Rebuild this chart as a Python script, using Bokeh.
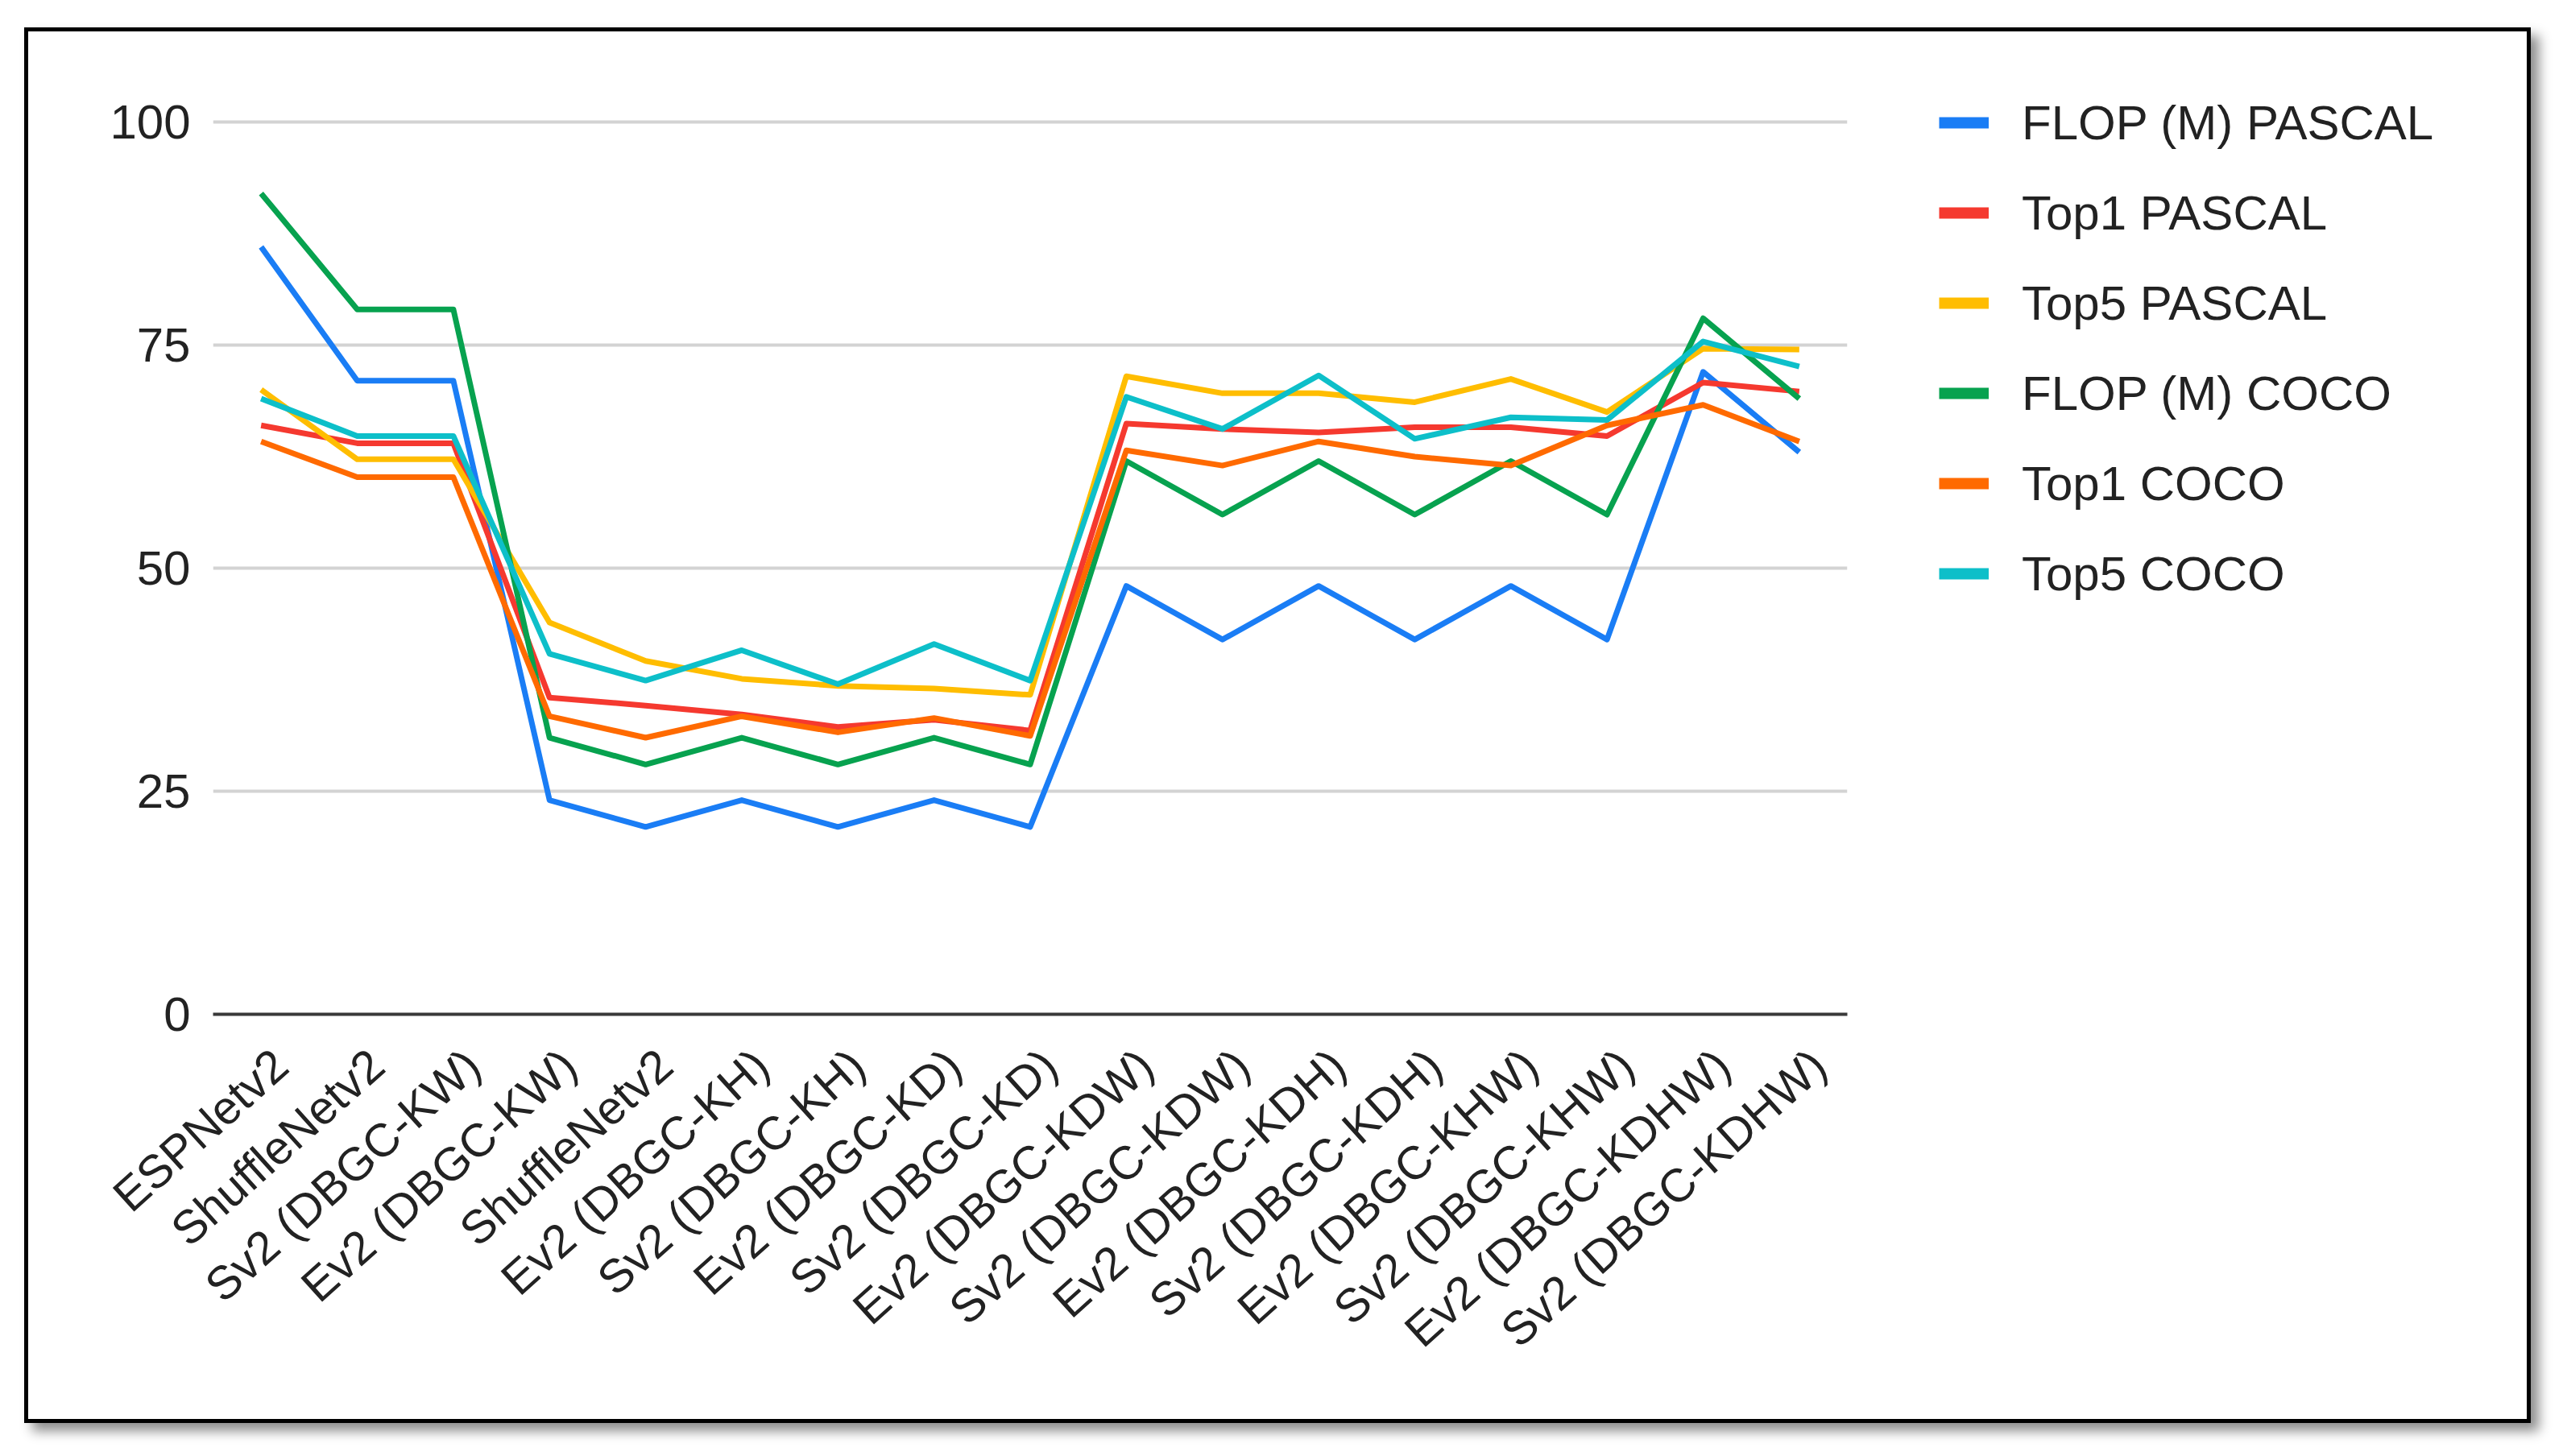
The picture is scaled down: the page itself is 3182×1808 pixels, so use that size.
import math
from bokeh.plotting import figure
from bokeh.layouts import row
from bokeh.models import Range1d, FixedTicker, Legend, LegendItem, LinearAxis
from bokeh.embed import file_html
from bokeh.resources import INLINE

categories = [
    "ESPNetv2", "ShuffleNetv2", "Sv2 (DBGC-KW)", "Ev2 (DBGC-KW)", "ShuffleNetv2",
    "Ev2 (DBGC-KH)", "Sv2 (DBGC-KH)", "Ev2 (DBGC-KD)", "Sv2 (DBGC-KD)",
    "Ev2 (DBGC-KDW)", "Sv2 (DBGC-KDW)", "Ev2 (DBGC-KDH)", "Sv2 (DBGC-KDH)",
    "Ev2 (DBGC-KHW)", "Sv2 (DBGC-KHW)", "Ev2 (DBGC-KDHW)", "Sv2 (DBGC-KDHW)",
]

flop_pascal = [86, 71, 71, 24, 21, 24, 21, 24, 21, 48, 42, 48, 42, 48, 42, 72, 63]
top1_pascal = [66, 64, 64, 35.5, 34.6, 33.6, 32.2, 33.0, 31.8, 66.2, 65.6, 65.2, 65.8, 65.8, 64.8, 70.8, 69.8]
top5_pascal = [70, 62.2, 62.2, 43.9, 39.6, 37.6, 36.8, 36.5, 35.8, 71.5, 69.6, 69.6, 68.6, 71.2, 67.5, 74.6, 74.5]
flop_coco = [92, 79, 79, 31, 28, 31, 28, 31, 28, 62, 56, 62, 56, 62, 56, 78, 69]
top1_coco = [64.2, 60.2, 60.2, 33.4, 31.0, 33.4, 31.6, 33.2, 31.2, 63.2, 61.5, 64.2, 62.5, 61.5, 66.0, 68.3, 64.2]
top5_coco = [69, 64.8, 64.8, 40.4, 37.4, 40.8, 37.0, 41.5, 37.4, 69.2, 65.6, 71.6, 64.5, 66.9, 66.6, 75.4, 72.6]

series_names = ["FLOP (M) PASCAL", "Top1 PASCAL", "Top5 PASCAL",
                "FLOP (M) COCO", "Top1 COCO", "Top5 COCO"]
series_values = [flop_pascal, top1_pascal, top5_pascal, flop_coco, top1_coco, top5_coco]
colors = ["#1a7df5", "#f5392f", "#ffbd00", "#07a24f", "#ff6a00", "#0dbfc9"]

y_ticks = [0, 25, 50, 75, 100]

x = list(range(len(categories)))

FONT = "Liberation Sans"
TEXT = "#222222"
BORDER = "5px solid black"

n = len(categories)

# ---------------- main chart ----------------
# the frame reaches a little above 100 so the legend's first row can sit level with it
p = figure(width=2283, height=1733,
           x_range=Range1d(-0.5, n - 0.5), y_range=Range1d(0, 103.07),
           output_backend="svg", toolbar_location=None,
           x_axis_location=None,
           min_border_left=229, min_border_right=25,
           min_border_top=78, min_border_bottom=513)

p.outline_line_color = None
p.background_fill_color = "white"
p.border_fill_color = "white"

p.xgrid.visible = False
p.ygrid.ticker = FixedTicker(ticks=y_ticks)
p.ygrid.grid_line_color = "#d3d3d3"
p.ygrid.grid_line_width = 4

p.yaxis.ticker = FixedTicker(ticks=y_ticks)
p.yaxis.axis_line_color = None
p.yaxis.major_tick_line_color = None
p.yaxis.minor_tick_line_color = None
p.yaxis.major_label_text_font = FONT
p.yaxis.major_label_text_font_size = "60px"
p.yaxis.major_label_text_color = TEXT
p.yaxis.major_label_standoff = 22

shift = 0.20
p.extra_x_ranges = {"lab": Range1d(-0.5 - shift, n - 0.5 - shift)}
xax = LinearAxis(x_range_name="lab", ticker=FixedTicker(ticks=x),
                 major_label_overrides={i: c for i, c in enumerate(categories)},
                 major_label_orientation=math.radians(42),
                 axis_line_color="#3a3a3a", axis_line_width=4,
                 major_tick_line_color=None, minor_tick_line_color=None,
                 major_label_text_font=FONT, major_label_text_font_size="58px",
                 major_label_text_color=TEXT, major_label_standoff=48)
p.add_layout(xax, "below")

for name, vals, col in zip(series_names, series_values, colors):
    p.line(x, vals, line_color=col, line_width=7, line_join="round")

p.styles = {"border-left": BORDER, "border-top": BORDER, "border-bottom": BORDER}

# ---------------- legend panel ----------------
q = figure(width=829, height=1733,
           x_range=Range1d(-0.5, n - 0.5), y_range=Range1d(200, 300),
           output_backend="svg", toolbar_location=None,
           x_axis_location=None, y_axis_location=None,
           min_border_left=94, min_border_right=0,
           min_border_top=0, min_border_bottom=0)
q.outline_line_color = None
q.xgrid.visible = False
q.ygrid.visible = False
q.background_fill_color = "white"
q.border_fill_color = "white"

items = []
for name, vals, col in zip(series_names, series_values, colors):
    # same series, outside this panel's visible range: only used for the legend key
    lg = q.line(x, vals, line_color=col, line_width=14, line_cap="butt")
    items.append(LegendItem(label=name, renderers=[lg]))

legend = Legend(items=items, location="top_left",
                padding=0, margin=0, spacing=42,
                glyph_width=62, glyph_height=70, label_height=70,
                label_standoff=41,
                label_text_font=FONT, label_text_font_size="60px",
                label_text_color=TEXT,
                background_fill_alpha=0, border_line_color=None)
q.add_layout(legend, "center")
q.styles = {"border-right": BORDER, "border-top": BORDER, "border-bottom": BORDER}

layout = row(p, q, spacing=0)
layout.margin = (34, 0, 0, 30)
layout.styles = {"box-shadow": "10px 10px 14px rgba(0,0,0,0.45)"}

open("out.html", "w").write(file_html(layout, INLINE))
